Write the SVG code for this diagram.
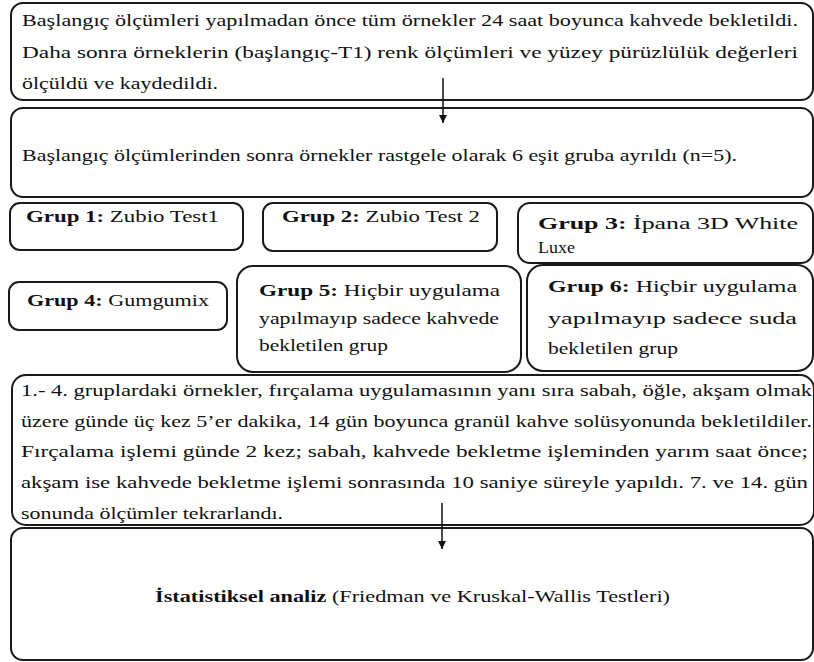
<svg xmlns="http://www.w3.org/2000/svg" width="814" height="662" viewBox="0 0 814 662">
<style>
.box{fill:#fff;stroke:#1a1a1a;stroke-width:2}
.t{font-family:"Liberation Serif","Times New Roman",serif;font-size:17.5px;fill:#111}
.b{font-weight:bold}
.conn{stroke:#111;stroke-width:1.5;fill:none}
</style>
<defs>
<marker id="ah" viewBox="0 0 8 8" refX="8" refY="4" markerWidth="8" markerHeight="8" markerUnits="userSpaceOnUse" orient="auto">
<path d="M0,0 L8,4 L0,8 z" fill="#111"/>
</marker>
</defs>
<rect width="814" height="662" fill="#fff"/>
<g id="n1">
<rect class="box" x="11" y="3" width="802" height="97" rx="12"/>
<text class="t" x="22" y="26" textLength="776" lengthAdjust="spacingAndGlyphs">Başlangıç ölçümleri yapılmadan önce tüm örnekler 24 saat boyunca kahvede bekletildi.</text>
<text class="t" x="22" y="58" textLength="776" lengthAdjust="spacingAndGlyphs">Daha sonra örneklerin (başlangıç-T1) renk ölçümleri ve yüzey pürüzlülük değerleri</text>
<text class="t" x="22" y="89" textLength="196" lengthAdjust="spacingAndGlyphs">ölçüldü ve kaydedildi.</text>
</g>
<g id="n2">
<rect class="box" x="11" y="108" width="802" height="89" rx="12"/>
<text class="t" x="22" y="161" textLength="715" lengthAdjust="spacingAndGlyphs">Başlangıç ölçümlerinden sonra örnekler rastgele olarak 6 eşit gruba ayrıldı (n=5).</text>
</g>
<g id="g1">
<rect class="box" x="10" y="203" width="233" height="47" rx="10"/>
<text class="t" x="26" y="222" textLength="193" lengthAdjust="spacingAndGlyphs"><tspan class="b">Grup 1:</tspan>  Zubio Test1</text>
</g>
<g id="g2">
<rect class="box" x="263" y="203" width="234" height="48" rx="10"/>
<text class="t" x="282" y="222" textLength="198" lengthAdjust="spacingAndGlyphs"><tspan class="b">Grup 2:</tspan>  Zubio Test 2</text>
</g>
<g id="g3">
<rect class="box" x="518" y="203" width="295" height="60" rx="12"/>
<text class="t" x="538" y="229" textLength="260" lengthAdjust="spacingAndGlyphs"><tspan class="b">Grup 3:</tspan> İpana 3D White</text>
<text class="t" x="538" y="253" textLength="37" lengthAdjust="spacingAndGlyphs">Luxe</text>
</g>
<g id="g4">
<rect class="box" x="9" y="282" width="218" height="48" rx="10"/>
<text class="t" x="27" y="306" textLength="182" lengthAdjust="spacingAndGlyphs"><tspan class="b">Grup 4:</tspan>  Gumgumix</text>
</g>
<g id="g5">
<rect class="box" x="237" y="266" width="284" height="106" rx="16"/>
<text class="t" x="259" y="296" textLength="241" lengthAdjust="spacingAndGlyphs"><tspan class="b">Grup 5:</tspan>  Hiçbir uygulama</text>
<text class="t" x="259" y="324" textLength="240" lengthAdjust="spacingAndGlyphs">yapılmayıp sadece kahvede</text>
<text class="t" x="259" y="351" textLength="129" lengthAdjust="spacingAndGlyphs">bekletilen grup</text>
</g>
<g id="g6">
<rect class="box" x="527" y="265" width="286" height="106" rx="16"/>
<text class="t" x="548" y="292" textLength="249" lengthAdjust="spacingAndGlyphs"><tspan class="b">Grup 6:</tspan> Hiçbir uygulama</text>
<text class="t" x="548" y="324" textLength="249" lengthAdjust="spacingAndGlyphs">yapılmayıp sadece suda</text>
<text class="t" x="548" y="354" textLength="130" lengthAdjust="spacingAndGlyphs">bekletilen grup</text>
</g>
<g id="n4">
<rect class="box" x="12" y="375" width="802" height="150" rx="14"/>
<text class="t" x="21" y="396" textLength="791" lengthAdjust="spacingAndGlyphs">1.- 4. gruplardaki örnekler, fırçalama uygulamasının yanı sıra sabah, öğle, akşam olmak</text>
<text class="t" x="21" y="427" textLength="791" lengthAdjust="spacingAndGlyphs">üzere günde üç kez 5’er dakika, 14 gün boyunca granül kahve solüsyonunda bekletildiler.</text>
<text class="t" x="21" y="457" textLength="787" lengthAdjust="spacingAndGlyphs">Fırçalama işlemi günde 2 kez; sabah, kahvede bekletme işleminden yarım saat önce;</text>
<text class="t" x="21" y="488" textLength="787" lengthAdjust="spacingAndGlyphs">akşam ise kahvede bekletme işlemi sonrasında 10 saniye süreyle yapıldı. 7. ve 14. gün</text>
<text class="t" x="21" y="519" textLength="262" lengthAdjust="spacingAndGlyphs">sonunda ölçümler tekrarlandı.</text>
</g>
<g id="n5">
<rect class="box" x="11" y="528" width="802" height="132" rx="12"/>
<text class="t" x="155" y="602" textLength="515" lengthAdjust="spacingAndGlyphs"><tspan class="b">İstatistiksel analiz</tspan> (Friedman ve Kruskal-Wallis Testleri)</text>
</g>
<g id="connectors">
<path class="conn" d="M443 78 V123" marker-end="url(#ah)"/>
<path class="conn" d="M442 503 V549" marker-end="url(#ah)"/>
</g>
</svg>
